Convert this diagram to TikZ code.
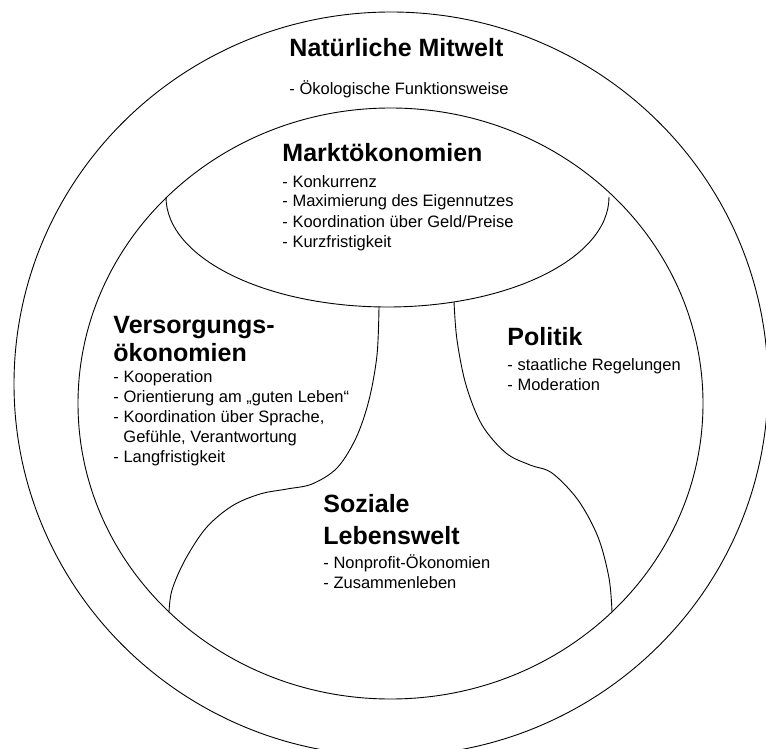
\documentclass[tikz,border=0pt]{standalone}
\usepackage{fontspec}
\setmainfont{Liberation Sans}
\begin{document}
\begin{tikzpicture}[x=1pt,y=-1pt,line width=0.9pt,
  title/.style={anchor=base west,inner sep=0pt,font=\fontsize{25}{30}\selectfont\bfseries},
  item/.style={anchor=base west,inner sep=0pt,font=\fontsize{16.5}{20}\selectfont}]
\useasboundingbox (0,0) rectangle (766,749);
\begin{scope}
\clip (0,0) rectangle (766,749);
\draw (391,384) ellipse [x radius=377pt, y radius=372pt];
\end{scope}
\draw (390.5,403.5) ellipse [x radius=312.5pt, y radius=295.5pt];
\coordinate (mL) at (166,197);
\draw (mL) arc[start angle=180, end angle=360, x radius=221.5pt, y radius=110pt];
\coordinate (l0) at (379,307);
\coordinate (l1) at (169,612);
\coordinate (r0) at (454,302);
\coordinate (r1) at (612,612);
\draw plot[smooth,tension=0.55] coordinates {(l0) (377,355) (369,400) (356,438) (337,468) (312,484) (287,489) (260,494) (232,506) (206,528) (185,560) (172,590) (l1)};
\draw plot[smooth,tension=0.55] coordinates {(r0) (457,340) (466,385) (482,425) (506,453) (530,465) (552,473) (578,500) (598,537) (609,578) (r1)};
% texts
\node[title] (nm) at (289,57) {Natürliche Mitwelt};
\node[item] (nm1) at (289,95) {- Ökologische Funktionsweise};
\node[title] (mk) at (282,162) {Marktökonomien};
\node[item] (mk1) at (282,187) {- Konkurrenz};
\node[item] (mk2) at (282,207) {- Maximierung des Eigennutzes};
\node[item] (mk3) at (282,227) {- Koordination über Geld/Preise};
\node[item] (mk4) at (282,247) {- Kurzfristigkeit};
\node[title] (vs) at (113,333) {Versorgungs-};
\node[title] (vs0) at (113,361) {ökonomien};
\node[item] (vs1) at (113,382) {- Kooperation};
\node[item] (vs2) at (113,402) {- Orientierung am „guten Leben“};
\node[item] (vs3) at (113,422) {- Koordination über Sprache,};
\node[item] (vs4) at (123,442) {Gefühle, Verantwortung};
\node[item] (vs5) at (113,462) {- Langfristigkeit};
\node[title] (po) at (507,345) {Politik};
\node[item] (po1) at (507,370) {- staatliche Regelungen};
\node[item] (po2) at (507,390) {- Moderation};
\node[title] (so) at (323,512) {Soziale};
\node[title] (so0) at (323,544) {Lebenswelt};
\node[item] (so1) at (323,568) {- Nonprofit-Ökonomien};
\node[item] (so2) at (323,588) {- Zusammenleben};
\end{tikzpicture}
\end{document}
